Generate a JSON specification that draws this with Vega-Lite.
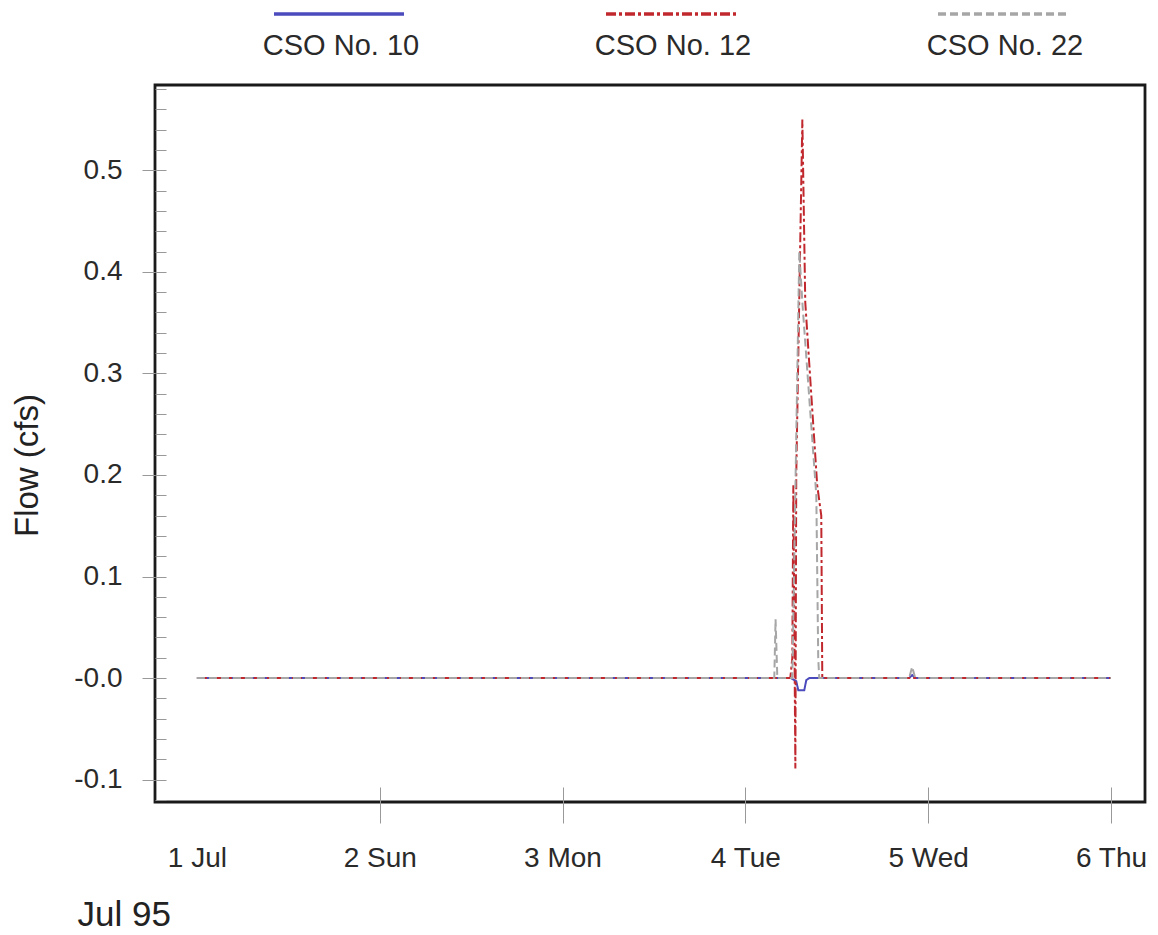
{
  "$schema": "https://vega.github.io/schema/vega-lite/v6.json",
  "width": 990,
  "height": 717,
  "autosize": {"type": "none"},
  "padding": {"left": 155, "top": 85, "right": 13, "bottom": 133},
  "background": "white",
  "config": {"view": {"stroke": "#1a1a1a", "strokeWidth": 2.8}, "font": "Liberation Sans"},
  "datasets": {
    "flows": [
      {"series": "CSO No. 10", "time": "1995-07-01T00:00:00Z", "flow": 0},
      {"series": "CSO No. 10", "time": "1995-07-01T06:00:00Z", "flow": 0},
      {"series": "CSO No. 10", "time": "1995-07-01T12:00:00Z", "flow": 0},
      {"series": "CSO No. 10", "time": "1995-07-01T18:00:00Z", "flow": 0},
      {"series": "CSO No. 10", "time": "1995-07-02T00:00:00Z", "flow": 0},
      {"series": "CSO No. 10", "time": "1995-07-02T06:00:00Z", "flow": 0},
      {"series": "CSO No. 10", "time": "1995-07-02T12:00:00Z", "flow": 0},
      {"series": "CSO No. 10", "time": "1995-07-02T18:00:00Z", "flow": 0},
      {"series": "CSO No. 10", "time": "1995-07-03T00:00:00Z", "flow": 0},
      {"series": "CSO No. 10", "time": "1995-07-03T06:00:00Z", "flow": 0},
      {"series": "CSO No. 10", "time": "1995-07-03T12:00:00Z", "flow": 0},
      {"series": "CSO No. 10", "time": "1995-07-03T18:00:00Z", "flow": 0},
      {"series": "CSO No. 10", "time": "1995-07-04T00:00:00Z", "flow": 0},
      {"series": "CSO No. 10", "time": "1995-07-04T06:00:00Z", "flow": 0},
      {"series": "CSO No. 10", "time": "1995-07-04T06:41:00Z", "flow": -0.003},
      {"series": "CSO No. 10", "time": "1995-07-04T06:57:00Z", "flow": -0.012},
      {"series": "CSO No. 10", "time": "1995-07-04T07:44:00Z", "flow": -0.012},
      {"series": "CSO No. 10", "time": "1995-07-04T08:00:00Z", "flow": -0.002},
      {"series": "CSO No. 10", "time": "1995-07-04T08:24:00Z", "flow": 0},
      {"series": "CSO No. 10", "time": "1995-07-04T12:00:00Z", "flow": 0},
      {"series": "CSO No. 10", "time": "1995-07-04T18:00:00Z", "flow": 0},
      {"series": "CSO No. 10", "time": "1995-07-04T21:30:00Z", "flow": 0},
      {"series": "CSO No. 10", "time": "1995-07-04T21:54:00Z", "flow": 0.003},
      {"series": "CSO No. 10", "time": "1995-07-04T22:18:00Z", "flow": 0},
      {"series": "CSO No. 10", "time": "1995-07-05T00:00:00Z", "flow": 0},
      {"series": "CSO No. 10", "time": "1995-07-05T06:00:00Z", "flow": 0},
      {"series": "CSO No. 10", "time": "1995-07-05T12:00:00Z", "flow": 0},
      {"series": "CSO No. 10", "time": "1995-07-05T18:00:00Z", "flow": 0},
      {"series": "CSO No. 10", "time": "1995-07-06T00:00:00Z", "flow": 0},

      {"series": "CSO No. 12", "time": "1995-07-01T00:00:00Z", "flow": 0},
      {"series": "CSO No. 12", "time": "1995-07-01T06:00:00Z", "flow": 0},
      {"series": "CSO No. 12", "time": "1995-07-01T12:00:00Z", "flow": 0},
      {"series": "CSO No. 12", "time": "1995-07-01T18:00:00Z", "flow": 0},
      {"series": "CSO No. 12", "time": "1995-07-02T00:00:00Z", "flow": 0},
      {"series": "CSO No. 12", "time": "1995-07-02T06:00:00Z", "flow": 0},
      {"series": "CSO No. 12", "time": "1995-07-02T12:00:00Z", "flow": 0},
      {"series": "CSO No. 12", "time": "1995-07-02T18:00:00Z", "flow": 0},
      {"series": "CSO No. 12", "time": "1995-07-03T00:00:00Z", "flow": 0},
      {"series": "CSO No. 12", "time": "1995-07-03T06:00:00Z", "flow": 0},
      {"series": "CSO No. 12", "time": "1995-07-03T12:00:00Z", "flow": 0},
      {"series": "CSO No. 12", "time": "1995-07-03T18:00:00Z", "flow": 0},
      {"series": "CSO No. 12", "time": "1995-07-04T00:00:00Z", "flow": 0},
      {"series": "CSO No. 12", "time": "1995-07-04T05:54:00Z", "flow": 0},
      {"series": "CSO No. 12", "time": "1995-07-04T06:10:00Z", "flow": 0.02},
      {"series": "CSO No. 12", "time": "1995-07-04T06:18:00Z", "flow": 0.19},
      {"series": "CSO No. 12", "time": "1995-07-04T06:34:00Z", "flow": -0.089},
      {"series": "CSO No. 12", "time": "1995-07-04T06:41:00Z", "flow": 0.2},
      {"series": "CSO No. 12", "time": "1995-07-04T07:29:00Z", "flow": 0.55},
      {"series": "CSO No. 12", "time": "1995-07-04T07:52:00Z", "flow": 0.37},
      {"series": "CSO No. 12", "time": "1995-07-04T09:26:00Z", "flow": 0.19},
      {"series": "CSO No. 12", "time": "1995-07-04T09:58:00Z", "flow": 0.16},
      {"series": "CSO No. 12", "time": "1995-07-04T10:06:00Z", "flow": 0},
      {"series": "CSO No. 12", "time": "1995-07-04T12:00:00Z", "flow": 0},
      {"series": "CSO No. 12", "time": "1995-07-04T18:00:00Z", "flow": 0},
      {"series": "CSO No. 12", "time": "1995-07-05T00:00:00Z", "flow": 0},
      {"series": "CSO No. 12", "time": "1995-07-05T06:00:00Z", "flow": 0},
      {"series": "CSO No. 12", "time": "1995-07-05T12:00:00Z", "flow": 0},
      {"series": "CSO No. 12", "time": "1995-07-05T18:00:00Z", "flow": 0},
      {"series": "CSO No. 12", "time": "1995-07-06T00:00:00Z", "flow": 0},

      {"series": "CSO No. 22", "time": "1995-07-01T00:00:00Z", "flow": 0},
      {"series": "CSO No. 22", "time": "1995-07-01T06:00:00Z", "flow": 0},
      {"series": "CSO No. 22", "time": "1995-07-01T12:00:00Z", "flow": 0},
      {"series": "CSO No. 22", "time": "1995-07-01T18:00:00Z", "flow": 0},
      {"series": "CSO No. 22", "time": "1995-07-02T00:00:00Z", "flow": 0},
      {"series": "CSO No. 22", "time": "1995-07-02T06:00:00Z", "flow": 0},
      {"series": "CSO No. 22", "time": "1995-07-02T12:00:00Z", "flow": 0},
      {"series": "CSO No. 22", "time": "1995-07-02T18:00:00Z", "flow": 0},
      {"series": "CSO No. 22", "time": "1995-07-03T00:00:00Z", "flow": 0},
      {"series": "CSO No. 22", "time": "1995-07-03T06:00:00Z", "flow": 0},
      {"series": "CSO No. 22", "time": "1995-07-03T12:00:00Z", "flow": 0},
      {"series": "CSO No. 22", "time": "1995-07-03T18:00:00Z", "flow": 0},
      {"series": "CSO No. 22", "time": "1995-07-04T00:00:00Z", "flow": 0},
      {"series": "CSO No. 22", "time": "1995-07-04T03:48:00Z", "flow": 0},
      {"series": "CSO No. 22", "time": "1995-07-04T03:58:00Z", "flow": 0.058},
      {"series": "CSO No. 22", "time": "1995-07-04T04:12:00Z", "flow": 0},
      {"series": "CSO No. 22", "time": "1995-07-04T06:10:00Z", "flow": 0},
      {"series": "CSO No. 22", "time": "1995-07-04T07:05:00Z", "flow": 0.42},
      {"series": "CSO No. 22", "time": "1995-07-04T07:29:00Z", "flow": 0.37},
      {"series": "CSO No. 22", "time": "1995-07-04T09:19:00Z", "flow": 0.18},
      {"series": "CSO No. 22", "time": "1995-07-04T09:34:00Z", "flow": 0.02},
      {"series": "CSO No. 22", "time": "1995-07-04T09:42:00Z", "flow": 0},
      {"series": "CSO No. 22", "time": "1995-07-04T12:00:00Z", "flow": 0},
      {"series": "CSO No. 22", "time": "1995-07-04T18:00:00Z", "flow": 0},
      {"series": "CSO No. 22", "time": "1995-07-04T21:30:00Z", "flow": 0},
      {"series": "CSO No. 22", "time": "1995-07-04T21:54:00Z", "flow": 0.011},
      {"series": "CSO No. 22", "time": "1995-07-04T22:18:00Z", "flow": 0},
      {"series": "CSO No. 22", "time": "1995-07-05T00:00:00Z", "flow": 0},
      {"series": "CSO No. 22", "time": "1995-07-05T06:00:00Z", "flow": 0},
      {"series": "CSO No. 22", "time": "1995-07-05T12:00:00Z", "flow": 0},
      {"series": "CSO No. 22", "time": "1995-07-05T18:00:00Z", "flow": 0},
      {"series": "CSO No. 22", "time": "1995-07-06T00:00:00Z", "flow": 0}
    ]
  },
  "data": {"name": "flows"},
  "resolve": {"axis": {"y": "independent"}},
  "layer": [
    {
      "mark": {"type": "line", "strokeWidth": 2, "clip": true},
      "encoding": {
        "x": {
          "field": "time", "type": "temporal",
          "scale": {"type": "utc", "domain": [
            {"year": 1995, "month": 6, "date": 30, "hours": 18, "minutes": 30, "utc": true},
            {"year": 1995, "month": 7, "date": 6, "hours": 4, "minutes": 28, "utc": true}
          ]},
          "axis": {
            "values": [
              {"year": 1995, "month": 7, "date": 1, "utc": true},
              {"year": 1995, "month": 7, "date": 2, "utc": true},
              {"year": 1995, "month": 7, "date": 3, "utc": true},
              {"year": 1995, "month": 7, "date": 4, "utc": true},
              {"year": 1995, "month": 7, "date": 5, "utc": true},
              {"year": 1995, "month": 7, "date": 6, "utc": true}
            ],
            "labelExpr": "utcdate(datum.value) == 1 ? '1 Jul' : utcFormat(datum.value, '%-d %a')",
            "domain": false, "grid": false,
            "offset": -15, "tickSize": 36, "tickColor": "#999999", "tickWidth": 1,
            "tickOpacity": {"condition": {"test": "utcdate(datum.value) == 1", "value": 0}, "value": 1},
            "labelPadding": 43, "labelBaseline": "alphabetic", "labelFontSize": 28, "labelColor": "#2a2a2a",
            "labelFlush": false, "labelOverlap": false,
            "title": "Jul 95", "titleAnchor": "start", "titleAlign": "left", "titleBaseline": "alphabetic",
            "titleX": -78, "titleY": 138, "titleFontSize": 35, "titleFontWeight": "normal", "titleColor": "#222222"
          }
        },
        "y": {
          "field": "flow", "type": "quantitative",
          "scale": {"domain": [-0.122, 0.584], "nice": false, "zero": false},
          "axis": {
            "orient": "left",
            "values": [-0.1, 0, 0.1, 0.2, 0.3, 0.4, 0.5],
            "labelExpr": "datum.value == 0 ? '-0.0' : (datum.value < 0 ? '-' : '') + format(abs(datum.value), '.1f')",
            "domain": false, "grid": false,
            "tickSize": 13, "tickColor": "#999999", "tickWidth": 1,
            "labelPadding": 20, "labelFontSize": 28, "labelColor": "#2a2a2a", "labelBaseline": "middle",
            "title": "Flow (cfs)", "titleFontSize": 33, "titleFontWeight": "normal", "titleColor": "#222222",
            "titleX": -128, "titleY": 380, "titleAngle": -90, "titleAlign": "center", "titleBaseline": "middle"
          }
        },
        "color": {
          "field": "series", "type": "nominal",
          "scale": {"domain": ["CSO No. 10", "CSO No. 12", "CSO No. 22"], "range": ["#4b4bbd", "#c0282e", "#a6a6a6"]},
          "legend": {
            "orient": "none", "legendX": 117, "legendY": -138, "direction": "horizontal", "title": null,
            "symbolType": "stroke", "symbolSize": 16900, "symbolStrokeWidth": 3.5,
            "labelFontSize": 29, "labelColor": "#2a2a2a", "labelOffset": -65, "labelAlign": "center",
            "columnPadding": 174,
            "encode": {"labels": {"update": {"dy": {"value": 32}}}}
          }
        },
        "strokeDash": {
          "field": "series", "type": "nominal",
          "scale": {"domain": ["CSO No. 10", "CSO No. 12", "CSO No. 22"], "range": [[1, 0], [10, 3, 3, 3], [8, 4]]},
          "legend": {
            "orient": "none", "legendX": 117, "legendY": -138, "direction": "horizontal", "title": null,
            "symbolType": "stroke", "symbolSize": 16900, "symbolStrokeWidth": 3.5,
            "labelFontSize": 29, "labelColor": "#2a2a2a", "labelOffset": -65, "labelAlign": "center",
            "columnPadding": 174,
            "encode": {"labels": {"update": {"dy": {"value": 32}}}}
          }
        }
      }
    },
    {
      "mark": {"type": "point", "opacity": 0},
      "encoding": {
        "x": {"field": "time", "type": "temporal"},
        "y": {
          "field": "flow", "type": "quantitative",
          "axis": {
            "orient": "left",
            "values": [-0.12, -0.1, -0.08, -0.06, -0.04, -0.02, 0, 0.02, 0.04, 0.06, 0.08, 0.1, 0.12, 0.14, 0.16, 0.18, 0.2, 0.22, 0.24, 0.26, 0.28, 0.3, 0.32, 0.34, 0.36, 0.38, 0.4, 0.42, 0.44, 0.46, 0.48, 0.5, 0.52, 0.54, 0.56, 0.58],
            "labels": false, "domain": false, "grid": false, "title": null,
            "offset": -11, "tickSize": 11, "tickColor": "#999999", "tickWidth": 1
          }
        }
      }
    }
  ]
}
